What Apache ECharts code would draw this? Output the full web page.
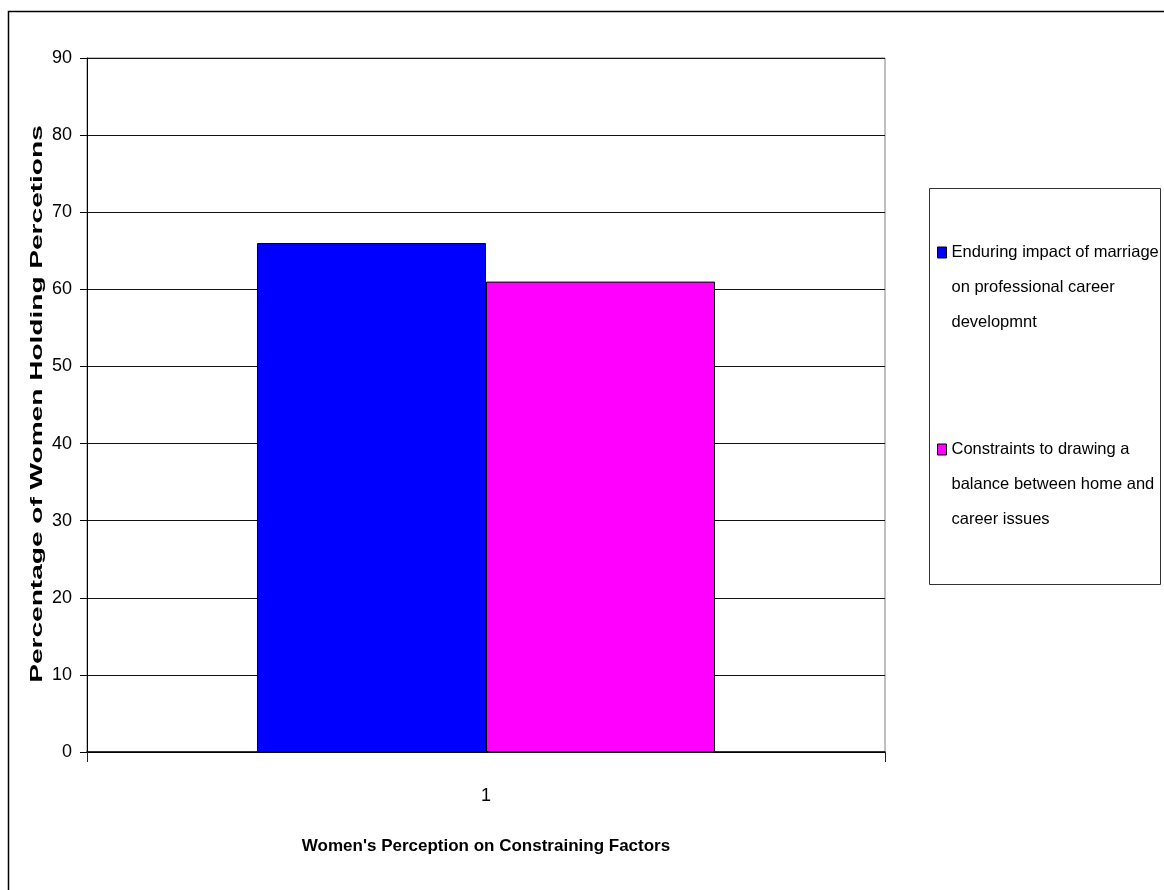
<!DOCTYPE html>
<html>
<head>
<meta charset="utf-8">
<script src="https://cdn.jsdelivr.net/npm/echarts@6/dist/echarts.min.js"></script>
<style>
html,body{margin:0;padding:0;background:#fff;}
#chart{width:1164px;height:890px;}
</style>
</head>
<body>
<div id="chart"></div>
<script>
const categories = ['1'];
const seriesNames = [
  'Enduring impact of marriage\non professional career\ndevelopmnt',
  'Constraints to drawing a\nbalance between home and\ncareer issues'
];
const enduringValues = [66];
const constraintValues = [61];
const yTicks = [0, 10, 20, 30, 40, 50, 60, 70, 80, 90];
const xTitle = "Women's Perception on Constraining Factors";
const yTitle = 'Percentage of Women Holding Percetions';

const FONT = "'Liberation Sans',Arial,sans-serif";
const chart = echarts.init(document.getElementById('chart'));
chart.setOption({
  backgroundColor: '#fff',
  animation: false,
  grid: {left: 87, top: 58, right: 279, bottom: 138, show: true, borderColor: '#808080', borderWidth: 1, containLabel: false},
  legend: {
    orient: 'vertical', left: 937, top: 165, padding: 0, itemGap: 22,
    itemWidth: 9, itemHeight: 11, itemStyle: {borderColor: '#000', borderWidth: 1},
    icon: 'rect',
    formatter: name => '\n\n' + name,
    textStyle: {fontFamily: FONT, fontSize: 16.5, color: '#000', lineHeight: 35},
    data: seriesNames
  },
  xAxis: {
    type: 'category', data: categories, boundaryGap: true,
    axisLine: {lineStyle: {color: '#000', width: 1.5}},
    axisTick: {show: true, interval: 0, length: 10, lineStyle: {color: '#222'}},
    axisLabel: {fontFamily: FONT, fontSize: 18, color: '#000', margin: 35},
    name: xTitle, nameLocation: 'middle', nameGap: 86,
    nameTextStyle: {fontFamily: FONT, fontSize: 17, fontWeight: 'bold', color: '#000'}
  },
  yAxis: {
    type: 'value', min: 0, max: 90, interval: 10,
    axisLine: {show: true, lineStyle: {color: '#000', width: 1}},
    axisTick: {show: true, length: 7, lineStyle: {color: '#000'}},
    axisLabel: {fontFamily: FONT, fontSize: 18, color: '#000', margin: 15,
      formatter: v => yTicks.includes(v) ? String(v) : ''},
    splitLine: {lineStyle: {color: '#111', width: 1}}
  },
  graphic: [
    {type: 'rect', shape: {x: 8.5, y: 11.5, width: 1180, height: 900}, style: {fill: 'none', stroke: '#000', lineWidth: 1.5}, silent: true, z: 0},
    {type: 'rect', shape: {x: 929.5, y: 188.5, width: 231, height: 396}, style: {fill: 'none', stroke: '#333', lineWidth: 1}, silent: true, z: 0},
    {type: 'text', x: 37, y: 404, rotation: Math.PI / 2, scaleX: 1.65,
     style: {text: yTitle, font: "bold 17px 'Liberation Sans', Arial, sans-serif", fill: '#000', align: 'center', verticalAlign: 'middle'}}
  ],
  series: [
    {name: seriesNames[0], type: 'bar', data: enduringValues, barGap: '0%', barCategoryGap: '42.6%',
     itemStyle: {color: '#0000FF', borderColor: '#000', borderWidth: 1}},
    {name: seriesNames[1], type: 'bar', data: constraintValues, barGap: '0%', barCategoryGap: '42.6%',
     itemStyle: {color: '#FF00FF', borderColor: '#000', borderWidth: 1}}
  ]
});
</script>
</body>
</html>
